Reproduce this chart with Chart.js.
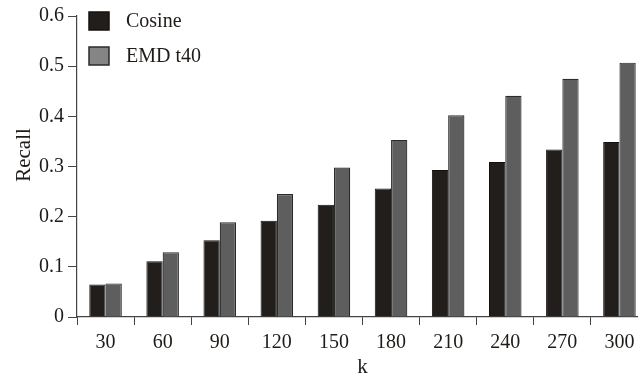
<!DOCTYPE html>
<html>
<head>
<meta charset="utf-8">
<script src="https://cdn.jsdelivr.net/npm/chart.js@4/dist/chart.umd.min.js"></script>
<style>
  html, body { margin: 0; padding: 0; background: #fff; overflow: hidden; width: 638px; height: 373px; }
  canvas { display: block; }
</style>
</head>
<body>
<canvas id="recall" width="660" height="373"></canvas>
<script>
// Recall at each neighbourhood size k
const kValues = ['30', '60', '90', '120', '150', '180', '210', '240', '270', '300'];
const cosineRecall = [0.065, 0.111, 0.153, 0.192, 0.224, 0.256, 0.293, 0.309, 0.334, 0.349];
const emdRecall = [0.067, 0.129, 0.189, 0.245, 0.298, 0.353, 0.402, 0.441, 0.475, 0.507];
const seriesNames = ['Cosine', 'EMD t40'];
const yTickLabels = ['0', '0.1', '0.2', '0.3', '0.4', '0.5', '0.6'];
const yCaption = 'Recall';

const FONT = "'Liberation Serif', 'Times New Roman', serif";
const INK = '#1e1b18';

Chart.defaults.font.family = FONT;
Chart.defaults.font.size = 20;
Chart.defaults.color = INK;

// Boxed legend drawn in the upper-left corner of the plot
const cornerLegend = {
  id: 'cornerLegend',
  afterDraw(chart, args, opts) {
    const ctx = chart.ctx;
    ctx.save();
    chart.data.datasets.forEach((ds, i) => {
      const x = opts.x, y = opts.y + i * opts.gap;
      ctx.fillStyle = opts.swatches[i];
      ctx.fillRect(x, y, opts.w, opts.h);
      ctx.lineWidth = 1.5;
      ctx.strokeStyle = ds.borderColor;
      ctx.strokeRect(x, y, opts.w, opts.h);
      ctx.fillStyle = INK;
      ctx.font = opts.font;
      ctx.textBaseline = 'middle';
      ctx.textAlign = 'left';
      ctx.fillText(ds.label, opts.textX, y + opts.h / 2 + 0.5);
    });
    ctx.restore();
  }
};

// Vertical caption of the value axis, set a little above the axis middle
const valueCaption = {
  id: 'valueCaption',
  afterDraw(chart, args, opts) {
    const ctx = chart.ctx;
    ctx.save();
    ctx.translate(opts.x, opts.y);
    ctx.rotate(-Math.PI / 2);
    ctx.fillStyle = INK;
    ctx.font = opts.font;
    ctx.textAlign = 'center';
    ctx.textBaseline = 'middle';
    ctx.fillText(opts.text, 0, 0);
    ctx.restore();
  }
};

new Chart(document.getElementById('recall'), {
  type: 'bar',
  data: {
    labels: kValues,
    datasets: [
      { label: seriesNames[0], data: cosineRecall, backgroundColor: '#221e1b', borderColor: '#141210', borderWidth: 1 },
      { label: seriesNames[1], data: emdRecall, backgroundColor: '#5e5e5e', borderColor: '#2b2b2b', borderWidth: 1.2 }
    ]
  },
  options: {
    responsive: false,
    animation: false,
    devicePixelRatio: 1,
    layout: { padding: { top: 15, right: 12, bottom: 0, left: 0 } },
    datasets: { bar: { categoryPercentage: 0.57, barPercentage: 1.0 } },
    plugins: {
      legend: { display: false },
      tooltip: { enabled: false },
      cornerLegend: {
        x: 89, y: 12, w: 20, h: 18, gap: 35, textX: 126,
        font: '20px ' + FONT,
        swatches: ['#221e1b', '#858585']
      },
      valueCaption: { text: yCaption, x: 24, y: 155, font: '21px ' + FONT }
    },
    scales: {
      x: {
        afterFit(scale) { scale.height = 56; },
        grid: { offset: true, drawOnChartArea: false, tickLength: 8, color: '#444', lineWidth: 1 },
        border: { color: '#444', width: 1.2 },
        ticks: { color: INK, font: { size: 20 }, padding: 6, maxRotation: 0 },
        title: { display: true, text: 'k', color: INK, font: { size: 21, lineHeight: 0.55 }, padding: { top: 0, bottom: 0 } }
      },
      y: {
        min: 0, max: 0.6,
        afterFit(scale) { scale.width = 77; },
        grid: { drawOnChartArea: false, tickLength: 9, color: '#444', lineWidth: 1 },
        border: { color: '#444', width: 1.2 },
        ticks: {
          stepSize: 0.1, color: INK, font: { size: 20 }, padding: 4,
          callback: (v, i) => yTickLabels[i]
        }
      }
    }
  },
  plugins: [cornerLegend, valueCaption]
});
</script>
</body>
</html>
